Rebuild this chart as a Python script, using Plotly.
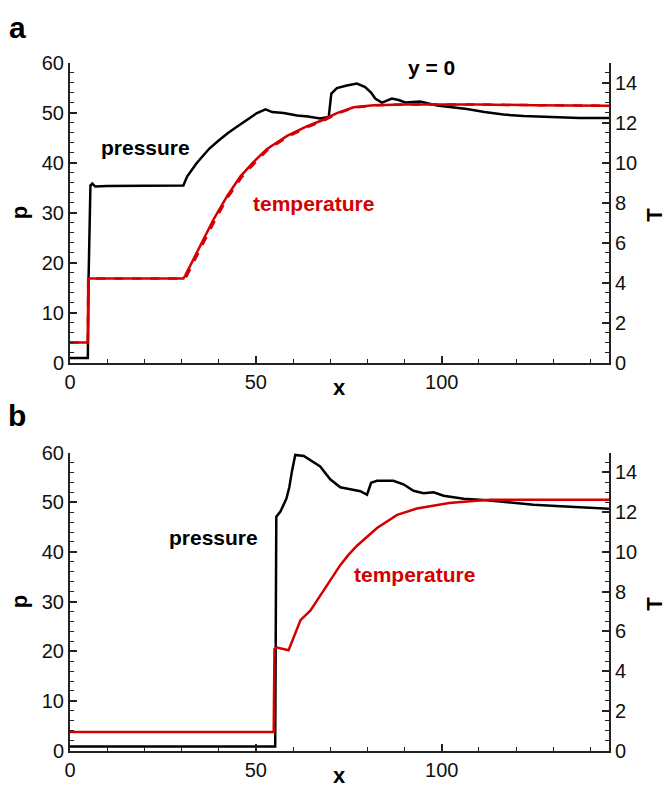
import plotly.graph_objects as go

# ---------------- data: panel a (y = 0) ----------------
xa_p = [0, 4.8, 5.0, 5.5, 6.0, 6.8, 10, 20, 30.5, 31.5, 32.5, 34, 35.5, 37.5, 40, 42.5, 45, 47.5, 50.3,
        51.5, 52.6, 54.4, 57.5, 61.1, 64, 67.3, 68.7, 69.6, 70.3, 71.8, 74.5, 77.2, 79.4, 81,
        82.1, 83.9, 86.6, 88.4, 90.2, 94.2, 98.7, 102.5, 106.8, 111.5, 116.6, 122, 129.2, 137, 145]
pa = [0.9, 0.9, 17.0, 35.4, 35.8, 35.2, 35.3, 35.3, 35.4, 37.2, 38.3, 39.8, 41.1, 42.8, 44.4, 45.9, 47.2, 48.5, 49.9,
      50.3, 50.65, 50.1, 49.9, 49.4, 49.2, 48.8, 49.0, 49.1, 53.8, 54.9, 55.4, 55.8, 55.1, 54.0,
      52.8, 52.0, 52.8, 52.5, 52.0, 52.2, 51.4, 51.1, 50.7, 50.1, 49.6, 49.3, 49.1, 48.9, 48.9]

xa_t = [0, 4.8, 4.9, 10, 20, 30.5, 31.0, 33, 35.1, 38.7, 42.3, 45.8, 49.4, 53.0, 58.4, 63.8,
        68.2, 70, 71.8, 76.3, 81.7, 90, 98.7, 110, 125, 145]
Ta = [1.0, 1.0, 4.2, 4.2, 4.2, 4.2, 4.35, 5.1, 5.89, 7.19, 8.33, 9.30, 10.03, 10.68, 11.33, 11.82,
      12.14, 12.3, 12.47, 12.76, 12.87, 12.90, 12.91, 12.90, 12.87, 12.84]
# second (dashed) temperature curve, nearly coincident
xa_td = [0, 4.8, 4.9, 10, 20, 30.5, 31.3, 33.3, 35.5, 39.1, 42.6, 46.2, 49.8, 53.3, 58.8, 64.2,
         68.5, 70, 72, 76.5, 82, 90, 98.7, 110, 125, 145]
Ta_d = [1.0, 1.0, 4.2, 4.2, 4.2, 4.2, 4.3, 5.05, 5.85, 7.15, 8.3, 9.27, 10.0, 10.66, 11.31, 11.80,
        12.12, 12.28, 12.46, 12.75, 12.86, 12.90, 12.91, 12.90, 12.87, 12.84]

# ---------------- data: panel b (y = 5) ----------------
xb_p = [0, 30, 55.2, 55.5, 56.6, 58.2, 59.0, 59.7, 60.6, 62.9, 65, 67.3, 70.0, 72.7, 75.4, 78.1,
        79.9, 81.0, 82.6, 87.0, 89.7, 92.4, 95.1, 97.8, 100.5, 102.3, 105.9, 112.2, 118, 124.7,
        132, 139.0, 145]
pb = [0.8, 0.8, 0.8, 47.1, 48.1, 50.7, 53.0, 56.2, 59.5, 59.3, 58.3, 57.2, 54.6, 53.0, 52.6, 52.2,
      51.5, 53.9, 54.3, 54.3, 53.6, 52.3, 51.8, 52.0, 51.3, 51.1, 50.7, 50.4, 50.0, 49.5,
      49.2, 48.9, 48.7]

xb_t = [0, 30, 54.8, 55.0, 55.7, 58.8, 60.2, 62.0, 64.7, 69.1, 72.7, 74.9, 77.2, 82.6, 88.0,
        93.3, 97.8, 102, 106.8, 113.0, 125, 145]
Tb = [0.93, 0.93, 0.93, 5.1, 5.18, 5.05, 5.75, 6.56, 7.05, 8.3, 9.33, 9.85, 10.31, 11.2, 11.86,
      12.18, 12.34, 12.46, 12.54, 12.62, 12.62, 12.62]

# axis settings
x_range = [0, 145]
p_range = [0, 60]
T_range = [0, 15]

BLACK = "#000000"
RED = "#d40000"
FONT = "Liberation Sans, Arial, Helvetica, sans-serif"

W, H = 669, 800
L, R = 70, 59.5
PW = W - L - R


def px(x):
    return (x - L) / PW


def py(y):
    return 1 - y / H


fig = go.Figure()
fig.add_trace(go.Scatter(x=xa_td, y=Ta_d, mode="lines", line=dict(color=RED, width=2.5, dash="dash"),
                         xaxis="x", yaxis="y2", showlegend=False))
fig.add_trace(go.Scatter(x=xa_t, y=Ta, mode="lines", line=dict(color=RED, width=2.5),
                         xaxis="x", yaxis="y2", showlegend=False))
fig.add_trace(go.Scatter(x=xa_p, y=pa, mode="lines", line=dict(color=BLACK, width=2.5),
                         xaxis="x", yaxis="y", showlegend=False))
fig.add_trace(go.Scatter(x=xb_t, y=Tb, mode="lines", line=dict(color=RED, width=2.5),
                         xaxis="x2", yaxis="y4", showlegend=False))
fig.add_trace(go.Scatter(x=xb_p, y=pb, mode="lines", line=dict(color=BLACK, width=2.5),
                         xaxis="x2", yaxis="y3", showlegend=False))

axcommon = dict(showline=True, linecolor="#222", linewidth=2, ticks="inside", ticklen=7,
                tickwidth=1.5, tickcolor="#222", showgrid=False, zeroline=False,
                tickfont=dict(family=FONT, size=20, color="#111"))

top_dom = [py(361.5), py(53)]
bot_dom = [py(760.5), py(454)]

xa = dict(axcommon, range=x_range, dtick=50, tick0=0, domain=[0, 1],
          minor=dict(dtick=10, ticks="inside", ticklen=4, tickcolor="#222", tickwidth=1.2))
ya_l = dict(axcommon, range=p_range, dtick=10, side="left",
            minor=dict(dtick=2, ticks="inside", ticklen=4, tickcolor="#222", tickwidth=1.2))
ya_r = dict(axcommon, range=T_range, dtick=2, side="right",
            minor=dict(dtick=0.5, ticks="inside", ticklen=4, tickcolor="#222", tickwidth=1.2))

fig.update_layout(
    width=W, height=H,
    margin=dict(l=L, r=R, t=0, b=0),
    paper_bgcolor="white", plot_bgcolor="white",
    xaxis=dict(xa, anchor="y"),
    yaxis=dict(ya_l, domain=top_dom, anchor="x"),
    yaxis2=dict(ya_r, domain=top_dom, anchor="x", overlaying="y"),
    xaxis2=dict(xa, anchor="y3"),
    yaxis3=dict(ya_l, domain=bot_dom, anchor="x2"),
    yaxis4=dict(ya_r, domain=bot_dom, anchor="x2", overlaying="y3"),
)

ann = []


def paper_text(text, x, y, size, angle=0, color=BLACK):
    ann.append(dict(text=text, x=px(x), y=py(y), xref="paper", yref="paper", showarrow=False,
                    textangle=angle, xanchor="center", yanchor="middle",
                    font=dict(family=FONT, size=size, color=color)))


def data_text(text, x, y, xref, yref, size=21, color=BLACK):
    ann.append(dict(text=text, x=x, y=y, xref=xref, yref=yref, showarrow=False,
                    xanchor="center", yanchor="middle",
                    font=dict(family=FONT, size=size, color=color)))


paper_text("<b>a</b>", 17, 17, 30)
paper_text("<b>b</b>", 17, 416, 30)
paper_text("<b>p</b>", 19, 208, 22, -90)
paper_text("<b>T</b>", 655, 209, 22, -90)
paper_text("<b>x</b>", 340, 387, 22)
paper_text("<b>p</b>", 19, 608, 22, -90)
paper_text("<b>T</b>", 655, 609, 22, -90)
paper_text("<b>x</b>", 340, 786, 22)

data_text("<b>y = 0</b>", 97.3, 59.0, "x", "y")
data_text("<b>pressure</b>", 20.3, 43.1, "x", "y")
data_text("<b>temperature</b>", 65.5, 31.9, "x", "y", color=RED)
data_text("<b>y = 5</b>", 98.9, 62.7, "x2", "y3")
data_text("<b>pressure</b>", 38.7, 42.9, "x2", "y3")
data_text("<b>temperature</b>", 92.6, 35.4, "x2", "y3", color=RED)

fig.update_layout(annotations=ann)
fig.write_html("out.html")
